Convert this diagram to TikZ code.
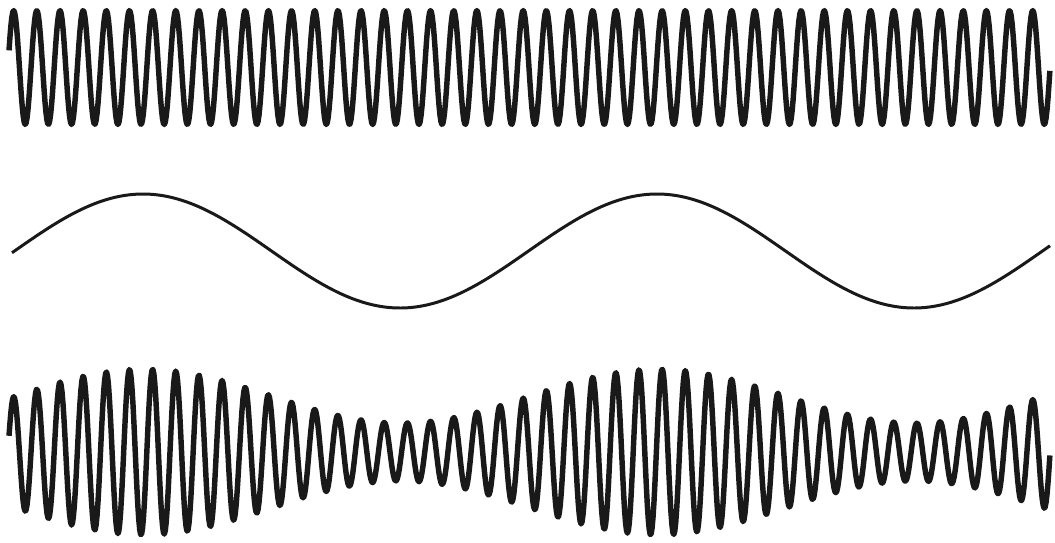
\documentclass[tikz,border=0pt]{standalone}
\usepackage{tikz}

\begin{document}
\begin{tikzpicture}[x=0.01cm, y=-0.01cm,
    carrier/.style={line width=1.55pt, line join=round, black!90},
    message/.style={line width=0.85pt, line join=round, black!90}]
  \useasboundingbox (0,0) rectangle (1055,542);
  % carrier (t counts carrier cycles)
  \draw[carrier] plot[domain=0:44.95, samples=1100, variable=\t]
    ({9+23.16*\t}, {67.5-57*sin(360*\t+17.5)});
  % modulating signal (period 514)
  \draw[message] plot[domain=12:1050, samples=300, smooth]
    (\x, {251-57*sin(0.70039*(\x-14.5))});
  % modulated wave, envelope follows the signal above
  \draw[carrier] plot[domain=0:44.95, samples=1100, variable=\t]
    ({9+23.16*\t}, {452-(56+27*sin(0.70039*(23.16*\t-6.5)))*sin(360*\t+17.5)});
\end{tikzpicture}
\end{document}
